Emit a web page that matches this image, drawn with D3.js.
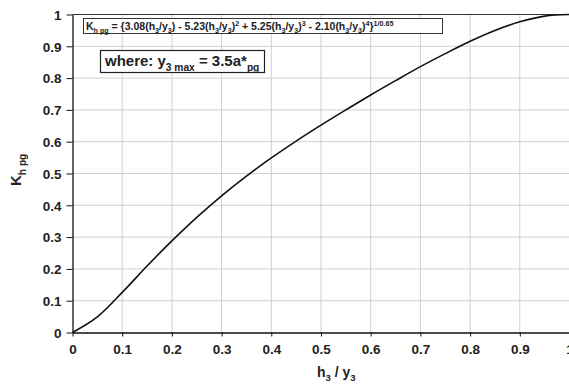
<!DOCTYPE html>
<html><head><meta charset="utf-8">
<script src="https://cdn.jsdelivr.net/npm/d3@7"></script>
<style>
body{margin:0;background:#fff;}
text{font-family:"Liberation Sans",Arial,sans-serif;font-weight:bold;fill:#222;}
</style></head><body>
<svg id="c" width="569" height="385"></svg>
<script>
const ratio = [0,0.05,0.1,0.15,0.2,0.25,0.3,0.35,0.4,0.45,0.5,0.55,0.6,0.65,0.7,0.75,0.8,0.85,0.9,0.95,1.0];
const kval  = [0,0.049,0.126,0.209,0.288,0.362,0.430,0.492,0.549,0.602,0.652,0.700,0.747,0.792,0.836,0.877,0.916,0.950,0.977,0.995,1.0];
const xTicks = [0,0.1,0.2,0.3,0.4,0.5,0.6,0.7,0.8,0.9,1];
const yTicks = [0,0.1,0.2,0.3,0.4,0.5,0.6,0.7,0.8,0.9,1];

const svg = d3.select("#c");
const L=72.5, R=569.5, T=14.5, B=332.5;
const x = d3.scaleLinear().domain([0,1]).range([L,R]);
const y = d3.scaleLinear().domain([0,1]).range([B,T]);

// grid
svg.append("g").selectAll("line").data(xTicks.slice(1)).join("line")
  .attr("x1",d=>x(d)).attr("x2",d=>x(d)).attr("y1",T).attr("y2",B)
  .attr("stroke","#d0d0d0").attr("stroke-width",1);
svg.append("g").selectAll("line").data(yTicks.slice(1)).join("line")
  .attr("x1",L).attr("x2",R).attr("y1",d=>y(d)).attr("y2",d=>y(d))
  .attr("stroke","#d0d0d0").attr("stroke-width",1);
svg.append("line").attr("x1",L).attr("x2",R).attr("y1",T).attr("y2",T).attr("stroke","#333").attr("stroke-width",1.2);

// axes
const xa = svg.append("g").attr("transform",`translate(0,${B})`)
  .call(d3.axisBottom(x).tickValues(xTicks).tickFormat(d3.format("~g")).tickSizeInner(4).tickSizeOuter(0).tickPadding(8));
const ya = svg.append("g").attr("transform",`translate(${L},0)`)
  .call(d3.axisLeft(y).tickValues(yTicks).tickFormat(d3.format("~g")).tickSizeInner(6).tickSizeOuter(0).tickPadding(5));
[xa,ya].forEach(a=>{
  a.select(".domain").attr("stroke","#111").attr("stroke-width",1.3);
  a.selectAll(".tick line").attr("stroke","#111");
  a.selectAll(".tick text").attr("font-size",13.5).attr("font-family","Liberation Sans, Arial, sans-serif").attr("font-weight","bold").attr("fill","#222");
});
ya.selectAll(".tick text").attr("dy","0.35em");

// curve
svg.append("path").datum(ratio.map((r,i)=>[r,kval[i]]))
  .attr("d",d3.line().x(d=>x(d[0])).y(d=>y(d[1])).curve(d3.curveCatmullRom))
  .attr("fill","none").attr("stroke","#111").attr("stroke-width",1.6);

// rich text helper
function rich(g, parts, size){
  const t = g.append("text").attr("font-size",size);
  let shift=0;
  parts.forEach(p=>{
    const [s,mode]=Array.isArray(p)?p:[p,""];
    let target = mode==="sub"? size*0.3 : mode==="sup"? -size*0.4 : 0;
    t.append("tspan").text(s).attr("dy",target-shift)
      .attr("font-size", mode? size*0.68 : size);
    shift=target;
  });
  return t;
}

// formula box
const fb = svg.append("g");
fb.append("rect").attr("x",83.5).attr("y",18.5).attr("width",359).attr("height",15).attr("fill","#fff").attr("stroke","#333").attr("stroke-width",1);
const ft = rich(fb,["K",["h pg","sub"]," = {3.08(h",["3","sub"],"/y",["3","sub"],") - 5.23(h",["3","sub"],"/y",["3","sub"],")",["2","sup"],
 " + 5.25(h",["3","sub"],"/y",["3","sub"],")",["3","sup"]," - 2.10(h",["3","sub"],"/y",["3","sub"],")",["4","sup"],"}",["1/0.65","sup"]],10.5)
 .attr("x",86).attr("y",30);
const fl = ft.node().getComputedTextLength();
if(fl>352) ft.attr("textLength",352).attr("lengthAdjust","spacingAndGlyphs");

// where box
const wb = svg.append("g");
wb.append("rect").attr("x",100.5).attr("y",50.5).attr("width",164).attr("height",22).attr("fill","#fff").attr("stroke","#222").attr("stroke-width",1.2);
rich(wb,["where: y",["3 max","sub"]," = 3.5a*",["pg","sub"]],15).attr("x",105).attr("y",66);

// axis titles
rich(svg,["h",["3","sub"]," / y",["3","sub"]],14).attr("x",317).attr("y",377);
rich(svg,["K",["h pg","sub"]],15).attr("transform","translate(21,186) rotate(-90)");
</script></body></html>
